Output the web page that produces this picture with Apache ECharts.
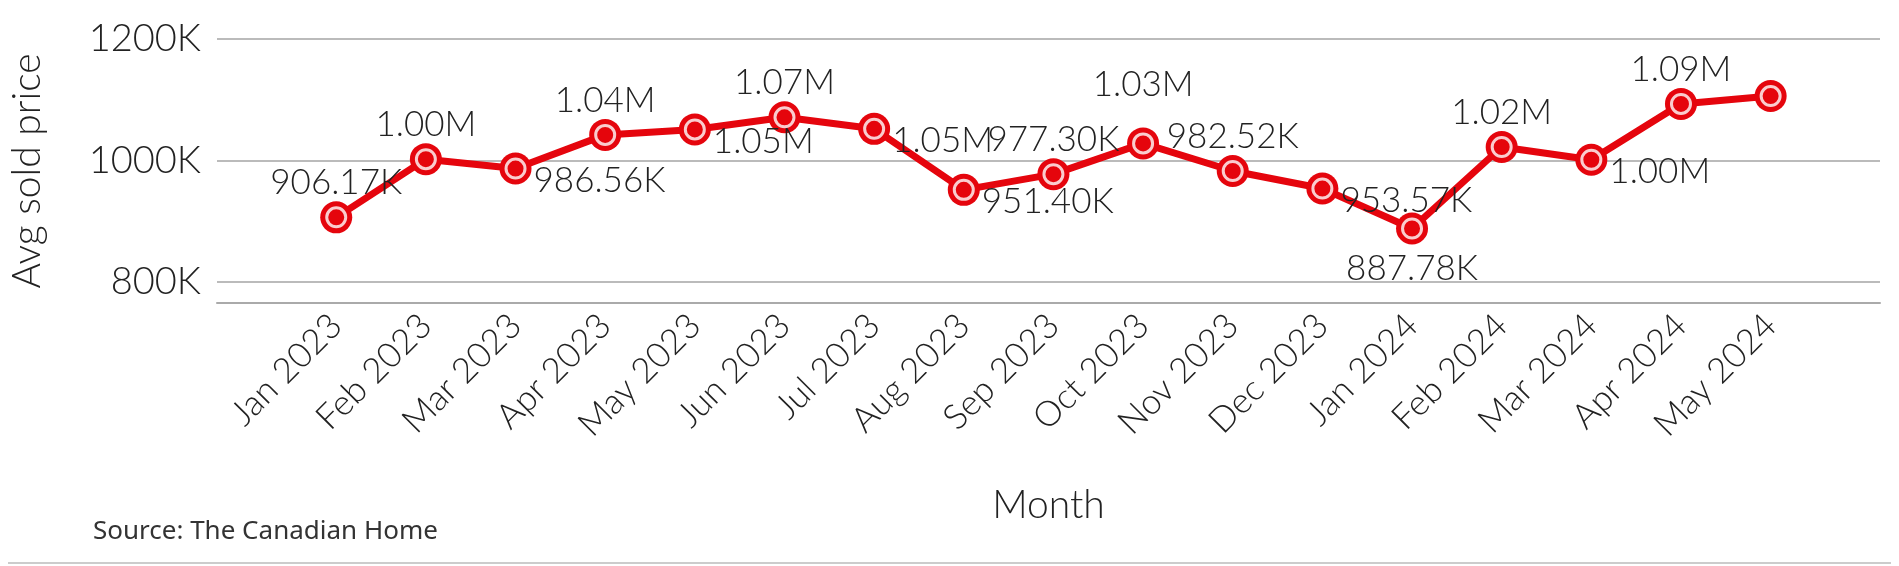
<!DOCTYPE html>
<html>
<head>
<meta charset="utf-8">
<title>Avg sold price by month</title>
<script src="https://cdn.jsdelivr.net/npm/echarts@6/dist/echarts.min.js"></script>
<style>
  html, body { margin: 0; padding: 0; background: #fff; }
  #chart { width: 1899px; height: 566px; }
</style>
</head>
<body>
<div id="chart"></div>
<script>
// data
const months = ['Jan 2023', 'Feb 2023', 'Mar 2023', 'Apr 2023', 'May 2023', 'Jun 2023', 'Jul 2023', 'Aug 2023',
  'Sep 2023', 'Oct 2023', 'Nov 2023', 'Dec 2023', 'Jan 2024', 'Feb 2024', 'Mar 2024', 'Apr 2024', 'May 2024'];
const avgPrice = [906170, 1002000, 986560, 1042000, 1051000, 1071000, 1052000, 951400,
  977300, 1028000, 982520, 953570, 887780, 1022000, 1001000, 1093000, 1106000];
const yTicks = [800000, 1000000, 1200000];

// where each point label sits (the source chart moves them around to avoid overlap)
const labelSpot = ['top', 'top', 'right', 'top', 'right', 'top', 'right', 'right',
  'top', 'high', 'top', 'right', 'bottom', 'top', 'right', 'top', 'none'];

const red = '#e5050d';
const font = 'Lato';

function fmtPrice(v) {
  if (v >= 1e6) return (v / 1e6).toFixed(2) + 'M';
  return (v / 1e3).toFixed(2) + 'K';
}

function labelFor(spot) {
  const base = { show: true, color: '#222', fontFamily: font, fontWeight: 300, fontSize: 35, formatter: p => fmtPrice(p.value[1]) };
  if (spot === 'none') return { show: false };
  if (spot === 'top') return Object.assign(base, { position: 'top', distance: 1 });
  if (spot === 'high') return Object.assign(base, { position: 'top', distance: 25 });
  if (spot === 'bottom') return Object.assign(base, { position: 'bottom', distance: 7 });
  return Object.assign(base, { position: 'right', distance: 2, offset: [0, 12] });
}

const chart = echarts.init(document.getElementById('chart'));

const lineData = avgPrice.map((v, i) => ({ value: [i, v], label: labelFor(labelSpot[i]) }));
const dotData = avgPrice.map((v, i) => [i, v]);

const option = {
  backgroundColor: '#fff',
  animation: false,
  grid: { left: 205, right: 19, top: 39, bottom: 263 },
  xAxis: {
    type: 'value',
    min: -1.33,
    max: 17.22,
    name: 'Month',
    nameLocation: 'middle',
    nameGap: 183,
    nameTextStyle: { fontFamily: font, fontWeight: 300, fontSize: 39, color: '#222' },
    axisLine: { show: true, onZero: false, lineStyle: { color: '#aaa', width: 2 } },
    axisTick: { show: false },
    splitLine: { show: false },
    axisLabel: {
      customValues: months.map((m, i) => i),
      formatter: v => months[v] || '',
      rotate: 45,
      margin: 17,
      fontFamily: font,
      fontWeight: 300,
      fontSize: 35,
      color: '#222'
    }
  },
  yAxis: {
    type: 'value',
    min: 765000,
    max: 1200000,
    name: 'Avg sold price',
    nameLocation: 'middle',
    nameGap: 170,
    nameTextStyle: { fontFamily: font, fontWeight: 300, fontSize: 39, color: '#222' },
    axisLine: { show: false },
    axisTick: { show: false, customValues: yTicks },
    splitLine: { show: true, lineStyle: { color: '#bbb', width: 2 } },
    axisLabel: {
      customValues: yTicks,
      formatter: v => (v / 1000) + 'K',
      margin: 16,
      fontFamily: font,
      fontWeight: 300,
      fontSize: 38,
      color: '#222'
    }
  },
  series: [
    {
      type: 'line',
      data: lineData,
      symbol: 'circle',
      symbolSize: 32,
      itemStyle: { color: red },
      lineStyle: { color: red, width: 7 },
      z: 2
    },
    {
      type: 'scatter',
      data: dotData,
      symbol: 'circle',
      symbolSize: 19,
      itemStyle: { color: red, borderColor: '#fff', borderWidth: 3 },
      z: 3
    }
  ],
  graphic: [
    {
      type: 'text',
      left: 93,
      top: 519,
      style: { text: 'Source: The Canadian Home', font: '26px "Noto Sans"', fill: '#333' }
    },
    {
      type: 'line',
      shape: { x1: 8, y1: 563, x2: 1891, y2: 563 },
      style: { stroke: '#ccc', lineWidth: 2 }
    }
  ]
};

chart.setOption(option);
window.addEventListener('resize', () => chart.resize());
</script>
</body>
</html>
